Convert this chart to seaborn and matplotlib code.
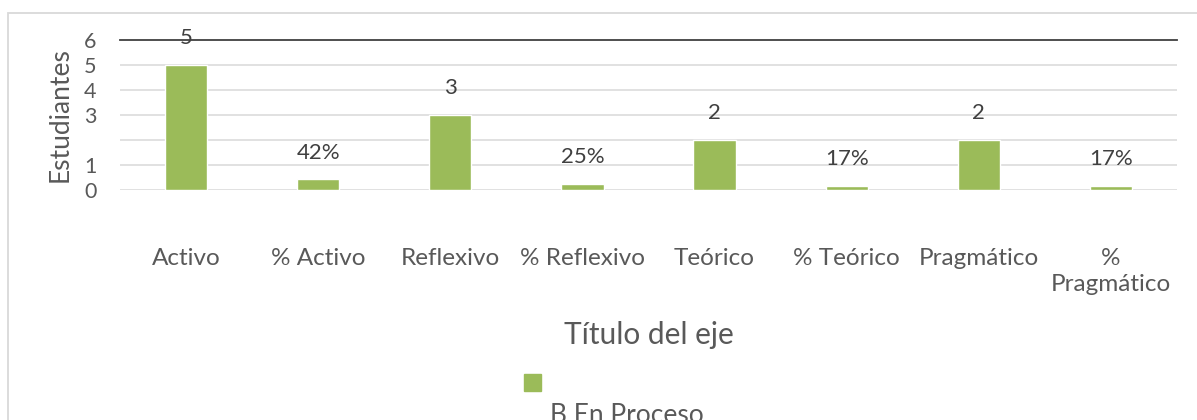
import matplotlib.pyplot as plt
import seaborn as sns
from matplotlib.patches import Rectangle

# data
categories = ["Activo", "% Activo", "Reflexivo", "% Reflexivo",
              "Teórico", "% Teórico", "Pragmático", "% Pragmático"]
tick_labels = ["Activo", "% Activo", "Reflexivo", "% Reflexivo",
               "Teórico", "% Teórico", "Pragmático", "%\nPragmático"]
values = [5, 0.42, 3, 0.25, 2, 0.17, 2, 0.17]
y_ticks = [0, 1, 3, 4, 5, 6]
series_name = "B En Proceso"

GREEN = "#9bbb59"
TXT = "#595959"
GRID = "#d9d9d9"

sns.set_theme(style="white")
plt.rcParams['font.family'] = ['Lato', 'DejaVu Sans']

fig = plt.figure(figsize=(11.97, 4.2), dpi=100)
ax = fig.add_axes([120 / 1197, 1 - 190 / 420, 1057 / 1197, 150 / 420])

sns.barplot(x=categories, y=values, color=GREEN, width=0.32,
            saturation=1, ax=ax)

# labels: counts for plain categories, percent for the % ones
lbls = [f"{v:.0%}" if c.startswith("%") else f"{v:g}" for c, v in zip(categories, values)]
ax.bar_label(ax.containers[0], labels=lbls, padding=12, fontsize=16, color="#404040")

ax.set_ylim(0, 6)
ax.set_xlim(-0.5, len(categories) - 0.5)
for y in range(0, 6):
    ax.axhline(y, color=GRID, lw=1.1, zorder=0)
ax.set_yticks(y_ticks)
ax.set_yticklabels([str(t) for t in y_ticks])
ax.set_xticks(range(len(categories)))
ax.set_xticklabels(tick_labels, linespacing=1.3)
ax.tick_params(axis="y", length=0, pad=17, labelsize=15.5, labelcolor=TXT)
ax.tick_params(axis="x", length=0, pad=42, labelsize=17.5, labelcolor=TXT)

for s in ["left", "right", "bottom"]:
    ax.spines[s].set_visible(False)
ax.spines["top"].set_color("#404040")
ax.spines["top"].set_linewidth(1.3)

ax.set_ylabel("Estudiantes", fontsize=19, color=TXT)
ax.yaxis.label.set_va("center")
ax.yaxis.set_label_coords(-0.057, 0.5)
ax.set_xlabel("Título del eje", fontsize=21.5, color=TXT)
ax.xaxis.label.set_va("center")
ax.xaxis.set_label_coords(0.5, -0.965)

# legend: marker above wrapped text, as in the source
fig.patches.append(Rectangle((524 / 1197, 1 - 391 / 420), 17 / 1197, 17 / 420,
                             transform=fig.transFigure, color=GREEN))
fig.text(550 / 1197, 1 - 403 / 420, series_name, fontsize=19, color=TXT,
         ha="left", va="top")

# outer chart frame
fig.patches.append(Rectangle((8 / 1197, -0.1), 1.2, 1 - 13 / 420 + 0.1,
                             transform=fig.transFigure, fill=False,
                             edgecolor=GRID, lw=1.3))

fig.savefig("out.png", dpi=100, facecolor="white")
